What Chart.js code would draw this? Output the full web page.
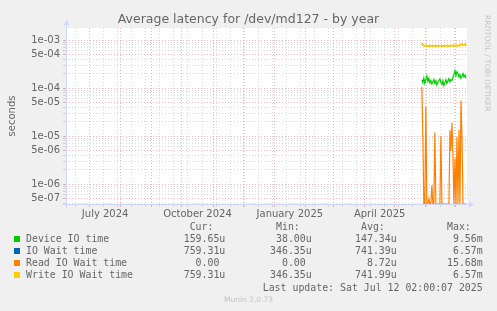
<!DOCTYPE html>
<html>
<head>
<meta charset="utf-8">
<title>Average latency for /dev/md127 - by year</title>
<script src="https://cdn.jsdelivr.net/npm/chart.js@4.4.1/dist/chart.umd.min.js"></script>
<style>
  html, body { margin: 0; padding: 0; background: #f0f0f0; }
  #wrap { position: relative; width: 497px; height: 311px; overflow: hidden; color: #666; }
  #chart { position: absolute; left: 0; top: 0; }
  #title { position: absolute; left: 0; width: 497px; top: 11px; text-align: center; white-space: pre;
    font-family: "DejaVu Sans", sans-serif; font-size: 12.5px; line-height: 16px; color: #666; }
  .mono { position: absolute; white-space: pre; font-family: "DejaVu Sans Mono", monospace; font-size: 9.9px; line-height: 12px; }
  .sq { position: absolute; width: 6px; height: 6px; }
  .wm { position: absolute; white-space: pre; font-family: "DejaVu Sans", sans-serif; font-size: 7.5px; line-height: 9px; color: #c4c4c4; }
</style>
</head>
<body>
<div id="wrap">
  <canvas id="chart" width="497" height="311"></canvas>
  <div id="title">Average latency for /dev/md127 - by year</div>
  <div id="legend"></div>
  <div class="wm" style="left:492px; top:15px; transform: rotate(90deg); transform-origin: 0 0;">RRDTOOL / TOBI OETIKER</div>
  <div class="wm" style="left:0; width:497px; top:295px; text-align:center;">Munin 2.0.73</div>
</div>
<script>
// --- DATA ---
// x values: days counted from Mon 1 July 2024 (day 0)
const DAYS = [331, 332, 333, 334, 335, 336, 337, 338, 339, 340, 341, 342, 343, 344, 345,
  346, 347, 348, 349, 350, 351, 352, 353, 354, 355, 356, 357, 358, 359, 360,
  361, 362, 363, 364, 365, 366, 367, 368, 369, 370, 371, 372, 373, 374, 375];

const DEVICE_IO = [1.50e-4, 1.30e-4, 1.62e-4, 1.25e-4, 1.48e-4, 1.78e-4, 1.38e-4, 1.60e-4, 1.28e-4, 1.45e-4,
  1.22e-4, 1.36e-4, 1.52e-4, 1.26e-4, 1.42e-4, 1.15e-4, 1.32e-4, 1.46e-4, 1.56e-4, 1.30e-4,
  1.18e-4, 1.42e-4, 1.12e-4, 1.30e-4, 1.50e-4, 1.24e-4, 1.40e-4, 1.58e-4, 1.34e-4, 1.50e-4,
  1.44e-4, 1.66e-4, 1.92e-4, 2.30e-4, 1.80e-4, 2.20e-4, 2.02e-4, 1.70e-4, 1.90e-4, 1.60e-4,
  1.76e-4, 2.00e-4, 1.70e-4, 1.86e-4, 1.60e-4];

const IO_WAIT = [8.5e-4, 7.9e-4, 7.7e-4, 7.6e-4, 7.6e-4, 7.5e-4, 7.6e-4, 7.55e-4, 7.5e-4, 7.6e-4,
  7.6e-4, 7.55e-4, 7.6e-4, 7.6e-4, 7.5e-4, 7.55e-4, 7.6e-4, 7.6e-4, 7.6e-4, 7.55e-4,
  7.5e-4, 7.55e-4, 7.6e-4, 7.6e-4, 7.55e-4, 7.6e-4, 7.6e-4, 7.55e-4, 7.6e-4, 7.6e-4,
  7.65e-4, 7.6e-4, 7.6e-4, 7.65e-4, 7.7e-4, 7.6e-4, 7.65e-4, 7.7e-4, 7.7e-4, 8.1e-4,
  8.3e-4, 7.8e-4, 7.9e-4, 8.2e-4, 7.6e-4];

const READ_WAIT = [1.05e-4, 1.0e-5, 0, 0, 4.1e-5, 0, 0, 5e-7, 0, 0,
  9.5e-7, 0, 0, 1.2e-5, 0, 0, 0, 0, 0, 1.0e-5,
  0, 0, 0, 0, 0, 0, 0, 0, 1.35e-5, 5e-6,
  1.9e-5, 4e-6, 0, 3.5e-6, 0, 9.5e-6, 0, 1.35e-5, 0, 5.5e-5,
  1.0e-5, 0, 0, 0, 0];

const WRITE_WAIT = [8.5e-4, 7.9e-4, 7.7e-4, 7.6e-4, 7.6e-4, 7.5e-4, 7.6e-4, 7.55e-4, 7.5e-4, 7.6e-4,
  7.6e-4, 7.55e-4, 7.6e-4, 7.6e-4, 7.5e-4, 7.55e-4, 7.6e-4, 7.6e-4, 7.6e-4, 7.55e-4,
  7.5e-4, 7.55e-4, 7.6e-4, 7.6e-4, 7.55e-4, 7.6e-4, 7.6e-4, 7.55e-4, 7.6e-4, 7.6e-4,
  7.65e-4, 7.6e-4, 7.6e-4, 7.65e-4, 7.7e-4, 7.6e-4, 7.65e-4, 7.7e-4, 7.7e-4, 8.1e-4,
  8.3e-4, 7.8e-4, 7.9e-4, 8.2e-4, 7.6e-4];

// x axis: month starts (red grid), biweekly grid (grey), labels centred in their month
const MONTH_STARTS = [0, 31, 62, 92, 123, 153, 184, 215, 243, 274, 304, 335, 365];
const WEEK_LINES = [-14, 0, 14, 28, 42, 56, 70, 84, 98, 112, 126, 140, 154, 168, 182, 196,
  210, 224, 238, 252, 266, 280, 294, 308, 322, 336, 350, 364];
const X_LABEL_POS = [15.5, 107.5, 199.5, 289];
const X_LABELS = ["July 2024", "October 2024", "January 2025", "April 2025"];

// y axis (log): labelled values
const Y_MAJOR = [1e-3, 5e-4, 1e-4, 5e-5, 1e-5, 5e-6, 1e-6, 5e-7];
const Y_LABELS = ["1e-03", "5e-04", "1e-04", "5e-05", "1e-05", "5e-06", "1e-06", "5e-07"];

// legend table
const SERIES = ["Device IO time", "IO Wait time", "Read IO Wait time", "Write IO Wait time"];
const COLORS = ["#00cc00", "#0066b3", "#ff8000", "#ffcc00"];
const CUR = ["159.65u", "759.31u", "0.00 ", "759.31u"];
const MIN = ["38.00u", "346.35u", "0.00 ", "346.35u"];
const AVG = ["147.34u", "741.39u", "8.72u", "741.99u"];
const MAX = ["9.56m", "6.57m", "15.68m", "6.57m"];

// --- CONFIG ---
const X_MIN = -23.5, X_MAX = 376;
const Y_MIN = 3.9e-7, Y_MAX = 1.776e-3;
const GRID_MINOR = "rgba(160,160,160,0.38)";
const GRID_MAJOR = "rgba(225,110,110,0.5)";
const AXIS_COLOR = "#cfd6f8";
const FONT_COLOR = "#666";

function xKind(v) {
  if (MONTH_STARTS.includes(v)) return "month";
  if (WEEK_LINES.includes(v)) return "week";
  return "label";
}

function yIsMajor(v) { return Y_MAJOR.some((m) => Math.abs(v / m - 1) < 1e-6); }

// rrdtool puts a zero on a log axis at the floor of the graph
function toPoints(vals) { return DAYS.map((d, i) => ({ x: d, y: vals[i] > 0 ? vals[i] : Y_MIN })); }

const plotBg = {
  id: "plotBg",
  beforeDraw(chart) {
    const { ctx, chartArea: a } = chart;
    ctx.save();
    ctx.fillStyle = "#ffffff";
    ctx.fillRect(a.left, a.top, a.right - a.left, a.bottom - a.top);
    ctx.restore();
  },
};

// rrdtool style axes with arrows
const axisArrows = {
  id: "axisArrows",
  afterDraw(chart) {
    const { ctx, chartArea: a } = chart;
    const x0 = Math.round(a.left) + 0.5, y0 = Math.round(a.bottom) + 0.5;
    ctx.save();
    ctx.strokeStyle = AXIS_COLOR;
    ctx.fillStyle = AXIS_COLOR;
    ctx.lineWidth = 1;
    ctx.beginPath();
    ctx.moveTo(x0, y0 + 4); ctx.lineTo(x0, a.top - 4);
    ctx.moveTo(x0 - 4, y0); ctx.lineTo(a.right + 3, y0);
    ctx.stroke();
    ctx.beginPath();
    ctx.moveTo(x0 - 3, a.top - 3); ctx.lineTo(x0 + 3, a.top - 3); ctx.lineTo(x0, a.top - 8); ctx.closePath();
    ctx.fill();
    ctx.beginPath();
    ctx.moveTo(a.right + 2, y0 - 3); ctx.lineTo(a.right + 2, y0 + 3); ctx.lineTo(a.right + 7, y0); ctx.closePath();
    ctx.fill();
    ctx.restore();
  },
};

function makeSet(label, vals, color, order, width) {
  return {
    label, data: toPoints(vals), borderColor: color, backgroundColor: color,
    borderWidth: width, pointRadius: 0, tension: 0, fill: false, order,
  };
}

const chart = new Chart(document.getElementById("chart").getContext("2d"), {
  type: "line",
  data: {
    datasets: [
      makeSet(SERIES[0], DEVICE_IO, COLORS[0], 3, 1.2),
      makeSet(SERIES[1], IO_WAIT, COLORS[1], 2, 1),
      makeSet(SERIES[2], READ_WAIT, COLORS[2], 1, 1.2),
      makeSet(SERIES[3], WRITE_WAIT, COLORS[3], 0, 2),
    ],
  },
  options: {
    responsive: false,
    animation: false,
    devicePixelRatio: 1,
    layout: { padding: { left: 0, right: 30, top: 28, bottom: 87 } },
    plugins: {
      legend: { display: false },
      tooltip: { enabled: false },
      title: { display: false },
    },
    scales: {
      x: {
        type: "linear",
        min: X_MIN,
        max: X_MAX,
        afterBuildTicks: (scale) => {
          const vals = [...new Set([...WEEK_LINES, ...MONTH_STARTS, ...X_LABEL_POS])]
            .filter((v) => v >= X_MIN && v <= X_MAX)
            .sort((a, b) => a - b);
          scale.ticks = vals.map((v) => ({ value: v }));
        },
        afterFit: (scale) => { scale.height = 20; },
        grid: {
          color: (c) => {
            if (!c.tick) return "transparent";
            const k = xKind(c.tick.value);
            return k === "month" ? GRID_MAJOR : k === "week" ? GRID_MINOR : "transparent";
          },
          tickLength: 3,
          lineWidth: 1,
        },
        border: { display: false, dash: [1, 2] },
        ticks: {
          autoSkip: false,
          maxRotation: 0,
          minRotation: 0,
          padding: 1,
          color: FONT_COLOR,
          font: { family: "DejaVu Sans", size: 10 },
          callback: (v) => {
            const i = X_LABEL_POS.indexOf(v);
            return i >= 0 ? X_LABELS[i] : "";
          },
        },
      },
      y: {
        type: "logarithmic",
        min: Y_MIN,
        max: Y_MAX,
        afterBuildTicks: (scale) => {
          const ticks = [];
          for (let e = -7; e <= -3; e++) {
            for (let m = 1; m <= 9; m++) {
              const v = m * Math.pow(10, e);
              if (v >= Y_MIN && v <= Y_MAX) ticks.push({ value: v });
            }
          }
          scale.ticks = ticks;
        },
        afterFit: (scale) => { scale.width = 66; },
        grid: {
          color: (c) => (c.tick ? (yIsMajor(c.tick.value) ? GRID_MAJOR : GRID_MINOR) : "transparent"),
          tickLength: 3,
          lineWidth: 1,
        },
        border: { display: false, dash: [1, 2] },
        title: {
          display: true,
          text: "seconds",
          color: FONT_COLOR,
          font: { family: "DejaVu Sans", size: 10 },
          padding: { top: 6, bottom: 0 },
        },
        ticks: {
          autoSkip: false,
          padding: 3,
          color: FONT_COLOR,
          font: { family: "DejaVu Sans", size: 10 },
          callback: (v) => {
            const i = Y_MAJOR.findIndex((m) => Math.abs(v / m - 1) < 1e-6);
            return i >= 0 ? Y_LABELS[i] : "";
          },
        },
      },
    },
  },
  plugins: [plotBg, axisArrows],
});

// --- LEGEND TABLE ---
function addText(parent, text, css) {
  const el = document.createElement("div");
  el.className = "mono";
  el.textContent = text;
  Object.assign(el.style, css);
  parent.appendChild(el);
  return el;
}

const legend = document.getElementById("legend");
const COL_RIGHT = [225.3, 311.7, 396.7, 482.7];
const HEADERS = ["Cur:", "Min:", "Avg:", "Max:"];
HEADERS.forEach((h, j) => {
  addText(legend, h + "  ", { right: (497 - COL_RIGHT[j]) + "px", top: (227.3 - 6) + "px", textAlign: "right" });
});
SERIES.forEach((name, i) => {
  const yc = 239.3 + i * 12;
  const sq = document.createElement("div");
  sq.className = "sq";
  Object.assign(sq.style, { left: "14px", top: (yc - 3) + "px", background: COLORS[i] });
  legend.appendChild(sq);
  addText(legend, name, { left: "26px", top: (yc - 6) + "px" });
  [CUR[i], MIN[i], AVG[i], MAX[i]].forEach((v, j) => {
    addText(legend, v, { right: (497 - COL_RIGHT[j]) + "px", top: (yc - 6) + "px", textAlign: "right" });
  });
});
addText(legend, "Last update: Sat Jul 12 02:00:07 2025", { right: (497 - 482.7) + "px", top: (287.7 - 6) + "px" });
</script>
</body>
</html>
